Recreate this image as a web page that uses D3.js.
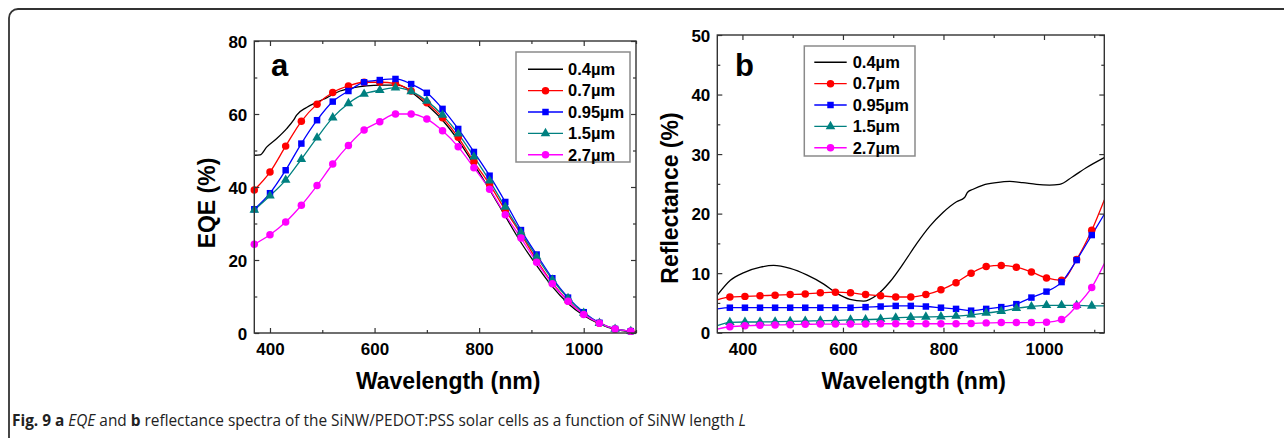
<!DOCTYPE html>
<html>
<head>
<meta charset="utf-8">
<script src="https://cdn.jsdelivr.net/npm/d3@7"></script>
<style>
  html, body { margin: 0; padding: 0; background: #fff; }
  svg { display: block; }
</style>
</head>
<body>
<svg id="fig" width="1284" height="438"></svg>
<script>
// ---- Series labels and colours ----
const seriesLabels = ["0.4µm", "0.7µm", "0.95µm", "1.5µm", "2.7µm"];
const seriesColors = ["#000000", "#ff0000", "#0000ff", "#008080", "#ff00ff"];
const seriesSymbols = [null, "circle", "square", "triangle", "circle"];

// ---- Panel a: EQE (%) ----
const aXTicks = [400, 600, 800, 1000];
const aXMinor = [500, 700, 900, 1100];
const aYTicks = [0, 20, 40, 60, 80];
const aYMinor = [10, 30, 50, 70];

// 0.4 µm is a plain line sampled at its own wavelengths
const aWave04 = [370, 381, 394, 413, 432, 445, 451, 470, 491, 509, 534, 560, 585, 611, 641, 660, 670, 700, 730, 760, 790, 820, 850, 880, 910, 940, 970, 1000, 1030, 1060, 1090, 1100];
const aEQE04  = [48.7, 48.8, 51.0, 53.3, 56.0, 58.3, 59.7, 61.8, 63.3, 64.5, 66.3, 67.2, 67.7, 67.9, 67.9, 67.2, 66.1, 62.5, 58.3, 52.8, 46.2, 39.3, 32.0, 24.8, 18.5, 12.7, 8.1, 4.8, 2.5, 1.0, 0.4, 0.3];

// symbol series share one wavelength grid
const aWave = [370, 400, 430, 460, 490, 520, 550, 580, 610, 640, 670, 700, 730, 760, 790, 820, 850, 880, 910, 940, 970, 1000, 1030, 1060, 1090];
const aEQE07  = [39.2, 44.1, 51.2, 58.0, 62.7, 65.9, 67.7, 68.7, 68.7, 68.3, 66.3, 63.1, 59.0, 53.6, 46.9, 40.7, 33.7, 27.1, 20.0, 13.7, 8.8, 5.2, 2.7, 1.1, 0.5];
const aEQE095 = [33.9, 38.3, 44.6, 51.9, 58.3, 63.4, 66.3, 68.7, 69.3, 69.6, 68.2, 65.8, 61.4, 55.9, 49.6, 43.1, 35.9, 28.2, 21.5, 15.0, 9.7, 5.7, 2.8, 1.1, 0.5];
const aEQE15  = [33.7, 37.6, 41.9, 47.6, 53.5, 59.0, 62.9, 65.5, 66.5, 67.2, 66.2, 63.6, 59.7, 54.6, 48.3, 41.7, 34.5, 27.5, 20.9, 14.6, 9.5, 5.5, 2.7, 1.1, 0.5];
const aEQE27  = [24.3, 26.9, 30.4, 35.0, 40.4, 46.3, 51.4, 55.6, 57.9, 60.0, 60.0, 58.6, 55.4, 51.0, 45.3, 39.4, 32.4, 26.0, 19.4, 13.5, 8.7, 5.1, 2.7, 1.1, 0.5];

// ---- Panel b: Reflectance (%) ----
const bXTicks = [400, 600, 800, 1000];
const bXMinor = [500, 700, 900, 1100];
const bYTicks = [0, 10, 20, 30, 40, 50];
const bYMinor = [5, 15, 25, 35, 45];

const bWave04 = [350, 376, 403, 436, 462, 495, 528, 561, 588, 614, 641, 667, 694, 720, 747, 773, 799, 826, 842, 848, 859, 879, 905, 932, 958, 985, 1011, 1031, 1057, 1084, 1120];
const bRefl04 = [6.3, 8.8, 10.1, 11.0, 11.3, 10.8, 9.7, 8.2, 6.6, 5.6, 5.3, 6.3, 8.6, 11.6, 15.0, 17.9, 20.2, 22.0, 22.7, 23.6, 24.1, 24.8, 25.2, 25.4, 25.2, 24.9, 24.8, 24.9, 26.2, 27.7, 29.4];

// grid: the two end values sit on the frame, symbols on the inner 25 points
const bWave = [350, 375, 405, 435, 465, 495, 525, 555, 585, 615, 645, 675, 705, 735, 765, 795, 825, 855, 885, 915, 945, 975, 1005, 1035, 1065, 1095, 1120];
const bRefl07  = [5.5, 6.0, 6.1, 6.2, 6.3, 6.4, 6.5, 6.7, 6.8, 6.7, 6.4, 6.2, 6.0, 6.0, 6.4, 7.2, 8.4, 10.0, 11.1, 11.3, 11.0, 10.2, 9.2, 8.8, 12.3, 17.2, 22.3];
const bRefl095 = [4.0, 4.2, 4.2, 4.2, 4.2, 4.2, 4.2, 4.2, 4.2, 4.2, 4.3, 4.4, 4.5, 4.5, 4.4, 4.2, 4.0, 3.7, 4.0, 4.3, 4.8, 5.9, 6.9, 8.5, 12.2, 16.4, 19.9];
const bRefl15  = [1.2, 1.75, 1.8, 1.8, 1.85, 1.9, 1.95, 2.0, 2.05, 2.15, 2.2, 2.3, 2.5, 2.6, 2.65, 2.7, 2.8, 3.0, 3.3, 3.6, 4.1, 4.4, 4.6, 4.6, 4.6, 4.5, 4.5];
const bRefl27  = [0.6, 1.0, 1.15, 1.25, 1.3, 1.35, 1.4, 1.45, 1.45, 1.45, 1.45, 1.5, 1.5, 1.5, 1.5, 1.5, 1.5, 1.55, 1.65, 1.7, 1.7, 1.7, 1.75, 2.2, 4.5, 7.6, 11.6];

const svg = d3.select("#fig");

// outer rounded frame of the figure box
svg.append("rect")
  .attr("x", 9).attr("y", 9).attr("width", 1400).attr("height", 700)
  .attr("rx", 9).attr("ry", 9)
  .attr("fill", "none").attr("stroke", "#333").attr("stroke-width", 1.8);

const tickFont = "'Liberation Sans', Arial, sans-serif";

function symbolPath(kind) {
  if (kind === "circle") return d3.symbol(d3.symbolCircle, 44)();
  if (kind === "square") return d3.symbol(d3.symbolSquare, 42)();
  if (kind === "triangle") return d3.symbol(d3.symbolTriangle, 40)();
  return null;
}

function drawPanel(cfg) {
  const g = svg.append("g");
  const x = d3.scaleLinear().domain(cfg.xDomain).range([cfg.left, cfg.right]);
  const y = d3.scaleLinear().domain(cfg.yDomain).range([cfg.bottom, cfg.top]);

  // clip region for curves
  const clipId = "clip-" + cfg.name;
  svg.append("clipPath").attr("id", clipId)
    .append("rect").attr("x", cfg.left).attr("y", cfg.top)
    .attr("width", cfg.right - cfg.left).attr("height", cfg.bottom - cfg.top);

  const line = d3.line().x(d => x(d[0])).y(d => y(d[1])).curve(d3.curveMonotoneX);
  const plot = g.append("g").attr("clip-path", `url(#${clipId})`);

  cfg.series.forEach((s, i) => {
    const pts = s.wave.map((w, k) => [w, s.values[k]]);
    plot.append("path").attr("d", line(pts))
      .attr("fill", "none").attr("stroke", seriesColors[i]).attr("stroke-width", 1.3);
    if (seriesSymbols[i]) {
      const marked = pts.filter((p, k) => s.marked(k));
      g.append("g").selectAll("path").data(marked).join("path")
        .attr("d", symbolPath(seriesSymbols[i]))
        .attr("transform", d => `translate(${x(d[0])},${y(d[1])})`)
        .attr("fill", seriesColors[i]);
    }
  });

  // axes with inward ticks on all four sides
  const styleAxis = sel => {
    sel.select(".domain").remove();
    sel.selectAll("line").attr("stroke", "#333").attr("stroke-width", 1.2);
  };
  const bottomAxis = g.append("g").attr("transform", `translate(0,${cfg.bottom})`)
    .call(d3.axisBottom(x).tickValues(cfg.xTicks).tickSize(-5).tickFormat(d3.format("d")));
  styleAxis(bottomAxis);
  bottomAxis.selectAll("text").attr("y", 10).attr("dy", "0.71em")
    .attr("font-family", tickFont).attr("font-weight", "bold").attr("font-size", 17).attr("fill", "#000");
  g.append("g").attr("transform", `translate(0,${cfg.bottom})`)
    .call(d3.axisBottom(x).tickValues(cfg.xMinor).tickSize(-3).tickFormat("")).call(styleAxis);
  g.append("g").attr("transform", `translate(0,${cfg.top})`)
    .call(d3.axisTop(x).tickValues(cfg.xTicks).tickSize(-5).tickFormat("")).call(styleAxis);
  g.append("g").attr("transform", `translate(0,${cfg.top})`)
    .call(d3.axisTop(x).tickValues(cfg.xMinor).tickSize(-3).tickFormat("")).call(styleAxis);

  const leftAxis = g.append("g").attr("transform", `translate(${cfg.left},0)`)
    .call(d3.axisLeft(y).tickValues(cfg.yTicks).tickSize(-5).tickFormat(d3.format("d")));
  styleAxis(leftAxis);
  leftAxis.selectAll("text").attr("x", -7).attr("dy", "0.36em")
    .attr("font-family", tickFont).attr("font-weight", "bold").attr("font-size", 17).attr("fill", "#000");
  g.append("g").attr("transform", `translate(${cfg.left},0)`)
    .call(d3.axisLeft(y).tickValues(cfg.yMinor).tickSize(-3).tickFormat("")).call(styleAxis);
  g.append("g").attr("transform", `translate(${cfg.right},0)`)
    .call(d3.axisRight(y).tickValues(cfg.yTicks).tickSize(-5).tickFormat("")).call(styleAxis);
  g.append("g").attr("transform", `translate(${cfg.right},0)`)
    .call(d3.axisRight(y).tickValues(cfg.yMinor).tickSize(-3).tickFormat("")).call(styleAxis);

  // plot frame
  g.append("rect").attr("x", cfg.left).attr("y", cfg.top)
    .attr("width", cfg.right - cfg.left).attr("height", cfg.bottom - cfg.top)
    .attr("fill", "none").attr("stroke", "#333").attr("stroke-width", 1.4);

  // axis titles
  g.append("text").attr("x", (cfg.left + cfg.right) / 2 + 3).attr("y", 389)
    .attr("text-anchor", "middle").attr("font-family", tickFont).attr("font-weight", "bold")
    .attr("font-size", 23).text("Wavelength (nm)");
  g.append("text")
    .attr("transform", `translate(${cfg.yTitleX},${cfg.yTitleY}) rotate(-90)`)
    .attr("text-anchor", "middle").attr("font-family", tickFont).attr("font-weight", "bold")
    .attr("font-size", 23).text(cfg.yTitle);

  // panel letter
  g.append("text").attr("x", cfg.letterX).attr("y", cfg.letterY)
    .attr("font-family", tickFont).attr("font-weight", "bold").attr("font-size", 31)
    .text(cfg.name);

  // legend
  const lg = cfg.legend;
  g.append("rect").attr("x", lg.x).attr("y", lg.y).attr("width", lg.w).attr("height", lg.h)
    .attr("fill", "#fff").attr("stroke", "#8a8a8a").attr("stroke-width", 1.5);
  seriesLabels.forEach((lab, i) => {
    const cy = lg.firstY + i * lg.step;
    g.append("line").attr("x1", lg.lineX1).attr("x2", lg.lineX2).attr("y1", cy).attr("y2", cy)
      .attr("stroke", seriesColors[i]).attr("stroke-width", 1.4);
    if (seriesSymbols[i]) {
      g.append("path").attr("d", symbolPath(seriesSymbols[i]))
        .attr("transform", `translate(${(lg.lineX1 + lg.lineX2) / 2},${cy})`)
        .attr("fill", seriesColors[i]);
    }
    g.append("text").attr("x", lg.textX).attr("y", cy + 5.8)
      .attr("font-family", tickFont).attr("font-weight", "bold").attr("font-size", 16.5)
      .text(lab);
  });
}

const allMarked = () => true;
const innerMarked = k => k > 0 && k < bWave.length - 1;

drawPanel({
  name: "a",
  xDomain: [370, 1100], yDomain: [0, 80],
  left: 254.3, right: 636, top: 41, bottom: 333,
  xTicks: aXTicks, xMinor: aXMinor, yTicks: aYTicks, yMinor: aYMinor,
  yTitle: "EQE (%)", yTitleX: 215, yTitleY: 203,
  letterX: 271, letterY: 76,
  legend: { x: 516, y: 52, w: 114, h: 110, firstY: 69.3, step: 21.35, lineX1: 528, lineX2: 563, textX: 568 },
  series: [
    { wave: aWave04, values: aEQE04, marked: allMarked },
    { wave: aWave, values: aEQE07, marked: allMarked },
    { wave: aWave, values: aEQE095, marked: allMarked },
    { wave: aWave, values: aEQE15, marked: allMarked },
    { wave: aWave, values: aEQE27, marked: allMarked }
  ]
});

drawPanel({
  name: "b",
  xDomain: [350, 1120], yDomain: [0, 50],
  left: 717.3, right: 1104.3, top: 35, bottom: 332.7,
  xTicks: bXTicks, xMinor: bXMinor, yTicks: bYTicks, yMinor: bYMinor,
  yTitle: "Reflectance (%)", yTitleX: 678, yTitleY: 198,
  letterX: 735, letterY: 76,
  legend: { x: 804.3, y: 46, w: 110.7, h: 110, firstY: 62.3, step: 21.35, lineX1: 814.3, lineX2: 846.7, textX: 852.7 },
  series: [
    { wave: bWave04, values: bRefl04, marked: allMarked },
    { wave: bWave, values: bRefl07, marked: innerMarked },
    { wave: bWave, values: bRefl095, marked: innerMarked },
    { wave: bWave, values: bRefl15, marked: innerMarked },
    { wave: bWave, values: bRefl27, marked: innerMarked }
  ]
});

// figure caption
const cap = svg.append("text").attr("x", 12).attr("y", 426)
  .attr("font-family", "'Open Sans', 'Noto Sans', sans-serif").attr("font-size", 15.4).attr("fill", "#222");
[
  ["Fig. 9 a", "bold", "normal"],
  [" EQE", "normal", "italic"],
  [" and ", "normal", "normal"],
  ["b", "bold", "normal"],
  [" reflectance spectra of the SiNW/PEDOT:PSS solar cells as a function of SiNW length ", "normal", "normal"],
  ["L", "normal", "italic"]
].forEach(([t, w, s]) => {
  cap.append("tspan").attr("font-weight", w).attr("font-style", s).text(t);
});
</script>
</body>
</html>
